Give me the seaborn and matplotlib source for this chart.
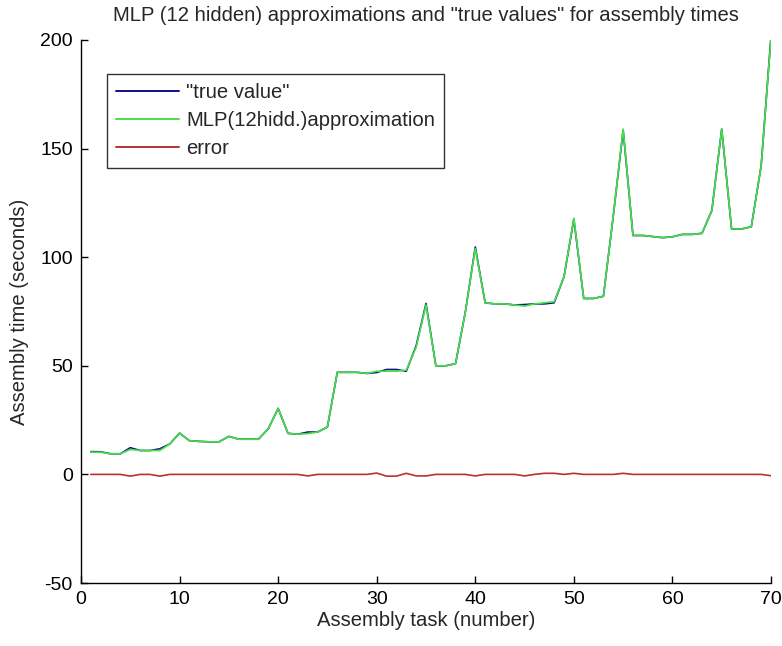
import numpy as np
import pandas as pd
import matplotlib
matplotlib.use("Agg")
import matplotlib.pyplot as plt
import seaborn as sns

tasks = list(range(1, 71))

approx = [10.3, 10.2, 9.5, 9.5, 11.5, 11.0, 11.0, 11.0, 14.0, 19.0,
          15.5, 15.2, 15.0, 15.0, 17.5, 16.2, 16.2, 16.2, 21.0, 30.4,
          18.9, 18.5, 18.8, 19.5, 21.8, 47.0, 47.0, 47.0, 46.5, 47.5,
          47.5, 47.5, 48.0, 58.5, 78.0, 50.0, 50.0, 51.0, 75.0, 104.0,
          79.0, 78.5, 78.5, 78.0, 77.5, 78.5, 79.0, 79.5, 91.0, 118.0,
          81.0, 81.0, 82.0, 119.0, 159.0, 110.0, 110.0, 109.5, 109.0, 109.4,
          110.5, 110.5, 111.0, 121.5, 159.0, 113.0, 113.0, 114.0, 142.0, 201.0]

true_vals = [10.5, 10.4, 9.5, 9.5, 12.3, 11.0, 11.0, 11.8, 14.0, 19.0,
             15.5, 15.2, 15.0, 15.0, 17.5, 16.2, 16.2, 16.2, 21.0, 30.4,
             18.9, 18.5, 19.5, 19.5, 21.8, 47.0, 47.0, 47.0, 46.5, 46.9,
             48.3, 48.3, 47.5, 59.2, 78.7, 50.0, 50.0, 51.0, 75.0, 104.7,
             79.0, 78.5, 78.5, 78.0, 78.2, 78.5, 78.5, 79.0, 91.0, 117.5,
             81.0, 81.0, 82.0, 119.0, 158.5, 110.0, 110.0, 109.5, 109.0, 109.4,
             110.5, 110.5, 111.0, 121.5, 159.0, 113.0, 113.0, 114.0, 142.0, 201.6]

error = [0.0, 0.0, 0.0, 0.0, -0.8, 0.0, 0.0, -0.8, 0.0, 0.0,
         0.0, 0.0, 0.0, 0.0, 0.0, 0.0, 0.0, 0.0, 0.0, 0.0,
         0.0, 0.0, -0.7, 0.0, 0.0, 0.0, 0.0, 0.0, 0.0, 0.6,
         -0.8, -0.8, 0.5, -0.7, -0.7, 0.0, 0.0, 0.0, 0.0, -0.7,
         0.0, 0.0, 0.0, 0.0, -0.7, 0.0, 0.5, 0.5, 0.0, 0.5,
         0.0, 0.0, 0.0, 0.0, 0.5, 0.0, 0.0, 0.0, 0.0, 0.0,
         0.0, 0.0, 0.0, 0.0, 0.0, 0.0, 0.0, 0.0, 0.0, -0.6]

series_names = ['"true value"', 'MLP(12hidd.)approximation', 'error']
series_colors = ['#10108a', '#44e044', '#b83232']

xticks = [0, 10, 20, 30, 40, 50, 60, 70]
yticks = [-50, 0, 50, 100, 150, 200]

title = 'MLP (12 hidden) approximations and "true values" for assembly times'
xlabel = 'Assembly task (number)'
ylabel = 'Assembly time (seconds)'

df = pd.concat([
    pd.DataFrame({'task': tasks, 'value': true_vals, 'series': series_names[0]}),
    pd.DataFrame({'task': tasks, 'value': approx, 'series': series_names[1]}),
    pd.DataFrame({'task': tasks, 'value': error, 'series': series_names[2]}),
], ignore_index=True)

sns.set_style("white")
plt.rcParams['font.family'] = ['Liberation Sans', 'DejaVu Sans']
plt.rcParams['axes.unicode_minus'] = False

fig = plt.figure(figsize=(7.82, 6.46), dpi=100)
ax = fig.add_axes([81 / 782, 1 - 583 / 646, 690 / 782, 543 / 646])

sns.lineplot(data=df, x='task', y='value', hue='series', hue_order=series_names,
             palette=dict(zip(series_names, series_colors)), linewidth=1.2,
             ax=ax, legend=True, estimator=None, sort=False)

ax.set_xlim(0, 70)
ax.set_ylim(-50, 200)
ax.set_xticks(xticks)
ax.set_yticks(yticks)
ax.tick_params(direction='in', length=5, width=1, labelsize=14, colors='black',
               bottom=True, left=True, top=False, right=False)
ax.tick_params(axis='y', pad=6)
ax.tick_params(axis='x', pad=6)
for s in ['top', 'right']:
    ax.spines[s].set_visible(False)
for s in ['left', 'bottom']:
    ax.spines[s].set_color('black')
    ax.spines[s].set_linewidth(1)

ax.set_title(title, fontsize=14.6, pad=14)
ax.set_xlabel(xlabel, fontsize=14.6, labelpad=2)
ax.set_ylabel(ylabel, fontsize=14.6, labelpad=8)

handles, labels = ax.get_legend_handles_labels()
leg = ax.legend(handles, labels, loc='upper left', bbox_to_anchor=(26 / 690, 1 - 34 / 543),
                borderaxespad=0, fontsize=14.6, frameon=True, fancybox=False,
                edgecolor='black', handlelength=3.1, handletextpad=0.35,
                labelspacing=0.45, borderpad=0.45)
leg.get_frame().set_linewidth(1)
for line in leg.get_lines():
    line.set_linewidth(1.4)

fig.savefig('out.png', dpi=100)
